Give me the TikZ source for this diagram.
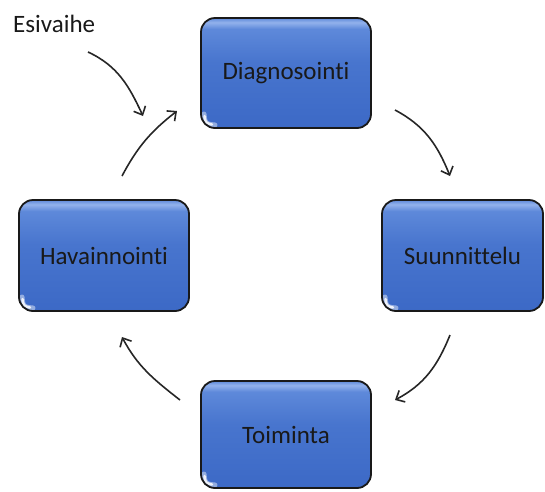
\documentclass[tikz,border=0pt]{standalone}
\usepackage{fontspec}
\setmainfont{Carlito}[Ligatures={NoCommon,NoContextual}]
\usetikzlibrary{arrows.meta}

% Blue gradient of the stage boxes (bottom to top), with a light band under the top edge
\definecolor{boxlow}{HTML}{3C69C6}
\definecolor{boxmid}{HTML}{4875CE}
\definecolor{boxtop}{HTML}{5E89DA}
\definecolor{boxglow}{HTML}{93B2EC}
\pgfdeclareverticalshading{stageshade}{100bp}{%
  color(0bp)=(boxlow); color(25bp)=(boxlow); color(55bp)=(boxmid);
  color(70bp)=(boxtop); color(73bp)=(boxglow); color(75bp)=(boxtop); color(100bp)=(boxtop)}

\tikzset{
  stagebox/.style={
    rounded corners=14pt, draw=black!90, line width=1.8pt,
    shading=stageshade, inner sep=0pt,
    font=\fontsize{25}{28}\selectfont, text=black!90,
    path picture={
      \draw[white, opacity=.45, line width=5pt, line cap=round]
        ([shift={(3pt,14pt)}]path picture bounding box.south west)
        .. controls ([shift={(4pt,4pt)}]path picture bounding box.south west)
        .. ([shift={(14pt,3pt)}]path picture bounding box.south west);
      \draw[white, opacity=.85, line width=2.5pt, line cap=round]
        ([shift={(3.5pt,12pt)}]path picture bounding box.south west)
        .. controls ([shift={(4.5pt,5pt)}]path picture bounding box.south west)
        .. ([shift={(11pt,3.5pt)}]path picture bounding box.south west);
    }},
  cyclearrow/.style={
    draw=black!85, line width=1.6pt,
    -{Straight Barb[length=7pt,width=13pt,line width=1.6pt]}},
  label/.style={font=\fontsize{25}{28}\selectfont, text=black!90, inner sep=0pt}
}

\begin{document}
\begin{tikzpicture}[x=1pt,y=1pt]
  \useasboundingbox (0,0) rectangle (545,-491);

  % Stage boxes
  \node[stagebox, minimum width=170, minimum height=110] (diag) at (286,-73)   {Diagnosointi};
  \node[stagebox, minimum width=170, minimum height=111] (hav)  at (104,-255.5) {Havainnointi};
  \node[stagebox, minimum width=161, minimum height=111] (suun) at (462.5,-255.5) {Suunnittelu};
  \node[stagebox, minimum width=170, minimum height=107] (toim) at (286,-434.5) {Toiminta};

  % Starting label
  \node[label, anchor=base west] (esi) at (13,-32) {Esivaihe};

  % Free ends of the curved connectors
  \coordinate (esiA) at (88,-52);   \coordinate (esiB) at (143,-116);
  \coordinate (havA) at (122,-176); \coordinate (havB) at (177,-111);
  \coordinate (diaA) at (395,-110); \coordinate (diaB) at (450,-176);
  \coordinate (suuA) at (450,-335); \coordinate (suuB) at (395,-400);
  \coordinate (toiA) at (180,-400); \coordinate (toiB) at (122,-337);

  % Curved arrows around the cycle
  \draw[cyclearrow] (esiA) to[out=-25, in=115] (esiB);
  \draw[cyclearrow] (havA) to[out=62, in=-142] (havB);
  \draw[cyclearrow] (diaA) to[out=-28, in=112] (diaB);
  \draw[cyclearrow] (suuA) to[out=-112, in=28] (suuB);
  \draw[cyclearrow] (toiA) to[out=142, in=-62] (toiB);
\end{tikzpicture}
\end{document}
